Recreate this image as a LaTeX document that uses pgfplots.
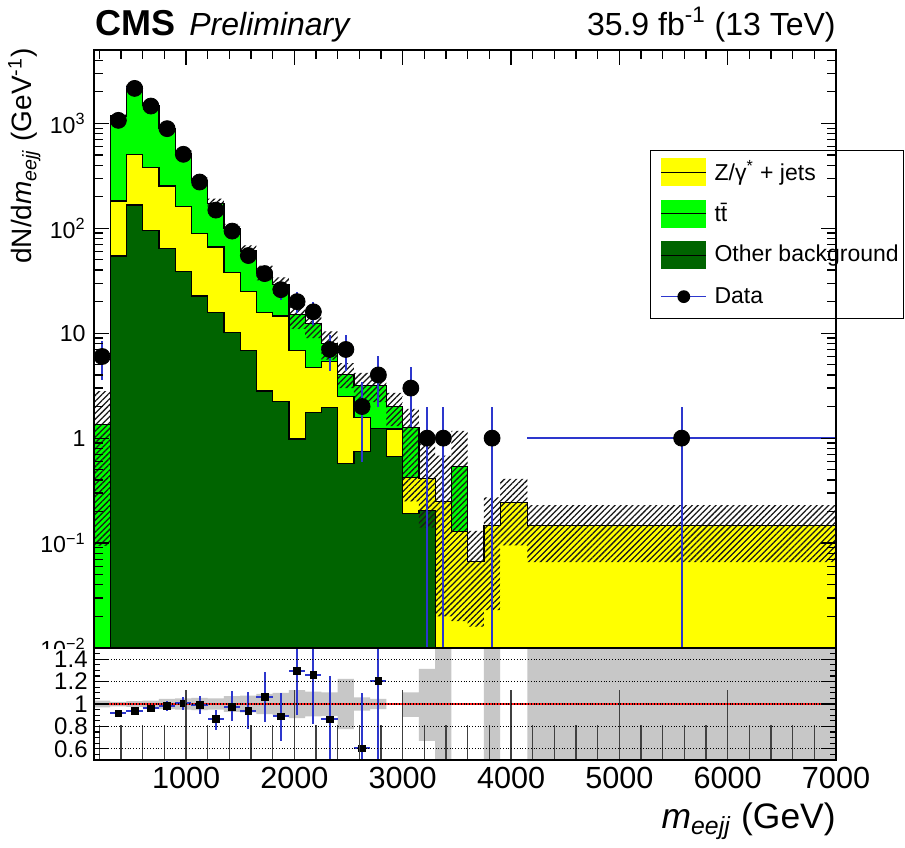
\documentclass[border=0pt]{standalone}
\usepackage{fontspec}
\setmainfont{Liberation Sans}
\setsansfont{Liberation Sans}
\usepackage{pgfplots}
\usepackage{pgfplotstable}
\pgfplotsset{compat=1.18}
\usepgfplotslibrary{fillbetween}
\usetikzlibrary{patterns.meta}

\definecolor{rootyellow}{RGB}{255,255,0}
\definecolor{rootgreen}{RGB}{0,255,0}
\definecolor{rootdark}{RGB}{0,100,0}
\definecolor{rootblue}{RGB}{45,55,205}
\definecolor{rootred}{RGB}{255,25,25}

% left bin edge, stacked tops (total, Z+other, other), syst. band lo/hi
\pgfplotstableread{
x    tot     zo      oth     lo      hi
150  1.36    1e-5    1e-5    0.094   2.8
300  1174    182     54.5    1127    1221
450  2235    507     167     2146    2324
600  1484    378     96      1410    1558
750  890     253     64      837     943
900  518     160     39      482     554
1050 282     89      22.6    257     307
1200 173     66.4    15.7    154     192
1350 99.3    37.9    10.2    88      110
1500 60.8    24.9    6.8     53      68.7
1650 37.9    15.7    2.82    31.8    44
1800 28.9    14.6    2.22    23.7    34.1
1950 15.2    6.8     0.98    11.0    19.0
2100 12.4    4.7     1.76    9.0     16.0
2250 8.0     5.4     1.96    5.6     10.4
2400 4.07    2.5     0.578   3.0     5.2
2550 3.2     1.57    0.74    2.2     4.2
2700 3.2     1.24    1.24    2.2     4.3
2850 2.0     1.22    0.67    1.3     2.7
3000 1.26    0.42    0.193   0.25    1.9
3150 0.41    0.41    0.204   0.14    1.0
3300 0.25    0.25    1e-5    0.02    0.68
3450 0.537   0.128   1e-5    0.018   1.17
3600 0.0664  0.0664  1e-5    0.016   0.131
3750 0.146   0.146   1e-5    0.023   0.272
3900 0.244   0.244   1e-5    0.095   0.41
4150 0.148   0.148   1e-5    0.066   0.23
7000 0.148   0.148   1e-5    0.066   0.23
}\stack

% ratio panel uncertainty band
\pgfplotstableread{
x    lo     hi
150  0.97   1.03
300  0.98   1.02
450  0.975  1.025
600  0.97   1.03
750  0.955  1.045
900  0.95   1.05
1050 0.945  1.055
1200 0.95   1.05
1350 0.93   1.07
1500 0.925  1.075
1650 0.91   1.09
1800 0.9    1.1
1950 0.875  1.125
2100 0.89   1.11
2250 0.895  1.105
2400 0.776  1.224
2550 0.94   1.06
2700 0.955  1.045
2850 1      1
3000 0.886  1.105
3150 0.67   1.314
3300 0.4    1.6
3450 1      1
3600 1      1
3750 0.4    1.6
3900 1      1
4150 0.4    1.6
7000 0.4    1.6
}\ratioband

\begin{document}
\begin{tikzpicture}
\pgfplotsset{every tick/.style={black, line width=0.6pt},
  swatch/.style={legend image code/.code={
    \path[draw=none, fill=none] (0pt,-10.375pt) rectangle (29.5pt,10.375pt);
    \fill[#1, draw=none] (5.35pt,-7pt) rectangle (27.85pt,7pt);
    \draw[black, line width=0.5pt] (5.35pt,0pt) -- (27.85pt,0pt);}}}

% ---- main panel
\begin{axis}[at={(47pt,-324pt)}, anchor=south west,
  scale only axis, width=371pt, height=299pt,
  xmin=150, xmax=7000, ymode=log, ymin=0.01, ymax=5000,
  axis on top, axis line style={line width=0.7pt},
  major tick length=7.5pt, minor tick length=4.5pt,
  xtick={1000,2000,3000,4000,5000,6000,7000}, minor xtick={200,400,...,6800},
  xticklabels={}, xtick pos=right,
  ytick={0.01,0.1,1,10,100,1000},
  yticklabels={10\textsuperscript{−2},10\textsuperscript{−1},1,10,10\textsuperscript{2},10\textsuperscript{3}},
  minor ytick={0.02,0.03,0.04,0.05,0.06,0.07,0.08,0.09,
    0.2,0.3,0.4,0.5,0.6,0.7,0.8,0.9,2,3,4,5,6,7,8,9,
    20,30,40,50,60,70,80,90,200,300,400,500,600,700,800,900,2000,3000,4000,5000},
  yticklabel style={font=\fontsize{11.6}{12}\selectfont, inner xsep=4pt},
  legend cell align=left,
  legend style={at={(0.7493,0.8328)}, anchor=north west, draw=black, line width=0.6pt,
    fill=white, inner xsep=0pt, inner ysep=0.4pt, row sep=0pt,
    font=\fontsize{11.5}{13}\selectfont, nodes={inner xsep=2.5pt, inner ysep=0pt}},
]
\addplot[draw=none, name path=floor, forget plot] coordinates {(150,1e-5) (7000,1e-5)};

\addplot[const plot, draw=none, name path=gtot, forget plot] table[x=x, y=tot] {\stack};
\addplot[fill=rootgreen, draw=none, forget plot] fill between[of=gtot and floor];
\addplot[const plot, draw=black, line width=0.6pt, forget plot] table[x=x, y=tot] {\stack};

\addplot[const plot, draw=none, name path=gzo, forget plot] table[x=x, y=zo] {\stack};
\addplot[fill=rootyellow, draw=none, forget plot] fill between[of=gzo and floor];
\addplot[const plot, draw=black, line width=0.6pt, forget plot] table[x=x, y=zo] {\stack};

\addplot[const plot, draw=none, name path=goth, forget plot] table[x=x, y=oth] {\stack};
\addplot[fill=rootdark, draw=none, forget plot] fill between[of=goth and floor];
\addplot[const plot, draw=black, line width=0.6pt, forget plot] table[x=x, y=oth] {\stack};

\addplot[const plot, draw=none, name path=bup, forget plot] table[x=x, y=hi] {\stack};
\addplot[const plot, draw=none, name path=blo, forget plot] table[x=x, y=lo] {\stack};
\addplot[pattern={Lines[angle=45, distance=2.1pt, line width=0.65pt]}, pattern color=black!90,
  draw=none, forget plot] fill between[of=bup and blo];

% data
\addplot[only marks, mark=*, mark size=4pt, mark options={fill=black, draw=black}, forget plot,
  error bars/.cd, x dir=both, x explicit, y dir=both, y explicit,
  error mark=none, error bar style={rootblue, line width=1pt}]
  coordinates {
  (225,6) +- (75,2.45)
  (375,1068) +- (75,32.7)
  (525,2154) +- (75,46.4)
  (675,1462) +- (75,38.2)
  (825,890) +- (75,29.8)
  (975,507) +- (75,22.5)
  (1125,276) +- (75,16.6)
  (1275,149) +- (75,12.2)
  (1425,94) +- (75,9.7)
  (1575,55) +- (75,7.4)
  (1725,37) +- (75,6.1)
  (1875,26) +- (75,5.1)
  (2025,20) +- (75,4.47)
  (2175,16) +- (75,4)
  (2325,7) +- (75,2.65)
  (2475,7) +- (75,2.65)
  (2625,2) +- (75,1.41)
  (2775,4) +- (75,2)
  (3075,3) +- (75,1.73)
  (3225,1) += (75,1) -= (75,0.9999)
  (3375,1) += (75,1) -= (75,0.9999)
  (3825,1) += (75,1) -= (75,0.9999)
  (5575,1) += (1425,1) -= (1425,0.9999)
  };

\addlegendimage{swatch=rootyellow}
\addlegendentry{Z/γ\textsuperscript{*} + jets}
\addlegendimage{swatch=rootgreen}
\addlegendentry{t\={t}}
\addlegendimage{swatch=rootdark}
\addlegendentry{Other background}
\addlegendimage{legend image code/.code={
  \path[draw=none, fill=none] (0pt,-10.375pt) rectangle (29.5pt,10.375pt);
  \draw[rootblue, line width=0.6pt] (5.35pt,0pt) -- (27.85pt,0pt);
  \fill[black, draw=none] (16.6pt,0pt) circle (3.2pt);}}
\addlegendentry{Data}
\end{axis}

% hide lower half of the 10^-2 label, as the ratio pad does
\fill[white] (0pt,-324.3pt) rectangle (46.6pt,-345pt);

% ---- ratio panel
\begin{axis}[at={(47pt,-324pt)}, anchor=north west,
  scale only axis, width=371pt, height=56pt,
  xmin=150, xmax=7000, ymin=0.5, ymax=1.5,
  axis on top, axis background/.style={fill=white},
  axis line style={line width=0.7pt},
  xtick=\empty,
  ytick={0.6,0.8,1,1.2,1.4}, yticklabels={0.6,0.8,1,1.2,1.4},
  minor ytick={0.5,0.55,...,1.5},
  major tick length=7.5pt, minor tick length=3pt,
  yticklabel style={font=\fontsize{12}{12}\selectfont, inner xsep=3pt},
  ymajorgrids, major grid style={black, densely dotted, line width=0.6pt},
]
\addplot[const plot, draw=none, name path=rup] table[x=x, y=hi] {\ratioband};
\addplot[const plot, draw=none, name path=rlo] table[x=x, y=lo] {\ratioband};
\addplot[fill=black!22, draw=none] fill between[of=rup and rlo];
\addplot[rootred, line width=1.3pt] coordinates {(150,1) (7000,1)};
\addplot[only marks, mark=square*, mark size=1.7pt, black,
  error bars/.cd, x dir=both, x explicit, y dir=both, y explicit,
  error mark=none, error bar style={rootblue, line width=1pt}]
  coordinates {
  (375,0.916) +- (75,0.02)
  (525,0.94) +- (75,0.02)
  (675,0.961) +- (75,0.025)
  (825,0.985) +- (75,0.045)
  (975,1.006) +- (75,0.06)
  (1125,0.991) += (75,0.083) -= (75,0.081)
  (1275,0.865) += (75,0.081) -= (75,0.098)
  (1425,0.976) += (75,0.138) -= (75,0.131)
  (1575,0.94) +- (75,0.165)
  (1725,1.06) +- (75,0.224)
  (1875,0.89) += (75,0.206) -= (75,0.219)
  (2025,1.299) += (75,0.4) -= (75,0.395)
  (2175,1.26) += (75,0.45) -= (75,0.44)
  (2325,0.863) += (75,0.387) -= (75,0.5)
  (2625,0.603) += (75,0.496) -= (75,0.5)
  (2775,1.209) +- (75,0.8)
  };
\end{axis}

% long x ticks of the ratio pad, and the x tick labels
\begin{axis}[at={(47pt,-324pt)}, anchor=north west,
  scale only axis, width=371pt, height=56pt,
  xmin=150, xmax=7000, ymin=0.5, ymax=1.5,
  hide y axis, axis line style={line width=0.7pt},
  xtick={1000,2000,3000,4000,5000,6000,7000},
  xticklabels={1000,2000,3000,4000,5000,6000,7000},
  minor xtick={200,400,...,6800}, xtick pos=left,
  major tick length=35pt, minor tick length=17.3pt,
  every tick/.style={black!75, line width=0.6pt},
  xticklabel style={font=\fontsize{15.3}{16}\selectfont, inner sep=0pt, yshift=-3.5pt},
]
\end{axis}

% texts
\node[anchor=base west, inner sep=0pt] at (47.5pt,-17.5pt)
  {\fontsize{18}{18}\selectfont\bfseries CMS};
\node[anchor=base west, inner sep=0pt] at (94.5pt,-17.5pt)
  {\fontsize{16}{16}\selectfont\itshape Preliminary};
\node[anchor=base east, inner sep=0pt] at (418pt,-17.5pt)
  {\fontsize{16}{16}\selectfont 35.9 fb\textsuperscript{-1} (13 TeV)};
\node[rotate=90, anchor=base east, inner sep=0pt] at (16pt,-24pt)
  {\fontsize{14}{14}\selectfont dN/d\textit{m}\textsubscript{\textit{eejj}} (GeV\textsuperscript{-1})};
\node[anchor=base east, inner sep=0pt] at (418pt,-414pt)
  {\fontsize{17.7}{18}\selectfont\textit{m}\textsubscript{\textit{eejj}} (GeV)};

\pgfresetboundingbox
\path (0pt,0pt) rectangle (452.5pt,-423.5pt);
\end{tikzpicture}
\end{document}
